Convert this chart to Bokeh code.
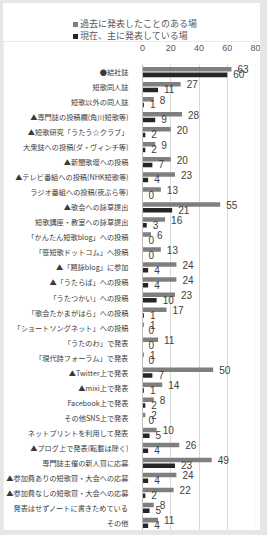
from bokeh.plotting import figure
from bokeh.models import (ColumnDataSource, FactorRange, Range1d, FixedTicker, Column, Div)
from bokeh.transform import dodge
from bokeh.core.properties import value
from bokeh.embed import file_html
from bokeh.resources import INLINE

categories = [
    "●結社誌",
    "短歌同人誌",
    "短歌以外の同人誌",
    "▲専門誌の投稿欄(角川短歌等)",
    "▲短歌研究「うたう☆クラブ」",
    "大衆誌への投稿(ダ・ヴィンチ等)",
    "▲新聞歌壇への投稿",
    "▲テレビ番組への投稿(NHK短歌等)",
    "ラジオ番組への投稿(夜ぷら等)",
    "▲歌会への詠草提出",
    "短歌講座・教室への詠草提出",
    "「かんたん短歌blog」への投稿",
    "「笹短歌ドットコム」へ投稿",
    "▲「題詠blog」に参加",
    "▲「うたらば」への投稿",
    "「うたつかい」への投稿",
    "「歌会たかまがはら」への投稿",
    "「ショートソングネット」への投稿",
    "「うたのわ」で発表",
    "「現代詩フォーラム」で発表",
    "▲Twitter上で発表",
    "▲mixi上で発表",
    "Facebook上で発表",
    "その他SNS上で発表",
    "ネットプリントを利用して発表",
    "▲ブログ上で発表(転載は除く)",
    "専門誌主催の新人賞に応募",
    "▲参加費ありの短歌賞・大会への応募",
    "▲参加費なしの短歌賞・大会への応募",
    "発表はせずノートに書きためている",
    "その他",
]
past = [63, 27, 8, 28, 20, 9, 20, 23, 13, 55, 16, 6, 13, 24, 24, 23, 17, 1, 11, 1,
        50, 14, 8, 2, 10, 26, 49, 24, 22, 8, 11]
current = [60, 11, 1, 9, 2, 2, 7, 4, 0, 21, 3, 0, 0, 4, 4, 10, 1, 0, 0, 0,
           7, 1, 2, 0, 5, 4, 23, 4, 2, 5, 4]
series_names = ["過去に発表したことのある場", "現在、主に発表している場"]
series_colors = ["#7f7f7f", "#262626"]
x_ticks = [0, 20, 40, 60, 80]

src = ColumnDataSource(dict(
    cat=categories, past=past, current=current,
    past_lbl=[str(v) for v in past], cur_lbl=[str(v) for v in current],
))

JP = "Noto Sans CJK JP"

p = figure(width=257, height=489, output_backend="svg", toolbar_location=None,
           y_range=FactorRange(factors=categories[::-1]),
           x_range=Range1d(0, 80), x_axis_location="above",
           min_border_left=136, min_border_right=5, min_border_top=19,
           min_border_bottom=0, margin=0)
p.outline_line_color = None
p.background_fill_color = "white"
p.border_fill_color = "white"

p.hbar(y=dodge("cat", 0.19, range=p.y_range), left=0, right="past", height=0.3,
       source=src, fill_color=series_colors[0], line_color=None)
p.hbar(y=dodge("cat", -0.19, range=p.y_range), left=0, right="current", height=0.3,
       source=src, fill_color=series_colors[1], line_color=None)

p.text(x="past", y=dodge("cat", 0.17, range=p.y_range), text="past_lbl", source=src,
       x_offset=6, text_baseline="middle", text_align="left",
       text_font=value("Liberation Sans"), text_font_size="10px", text_color="#404040")
p.text(x="current", y=dodge("cat", -0.15, range=p.y_range), text="cur_lbl", source=src,
       x_offset=6, text_baseline="middle", text_align="left",
       text_font=value("Liberation Sans"), text_font_size="10px", text_color="#404040")

# axes
xa = p.xaxis[0]
xa.ticker = FixedTicker(ticks=x_ticks)
xa.axis_line_color = None
xa.major_tick_line_color = None
xa.minor_tick_line_color = None
xa.major_label_text_font = "Liberation Sans"
xa.major_label_text_font_size = "9px"
xa.major_label_text_color = "#595959"
xa.major_label_standoff = 8

ya = p.yaxis[0]
ya.axis_line_color = "#bfbfbf"
ya.major_tick_line_color = None
ya.minor_tick_line_color = None
ya.major_label_text_font = JP
ya.major_label_text_font_size = "7.2px"
ya.major_label_text_color = "#3a3a3a"
ya.major_label_standoff = 8

p.xgrid.grid_line_color = "#d9d9d9"
p.xgrid.ticker = FixedTicker(ticks=x_ticks)
p.ygrid.grid_line_color = None

# legend (HTML, above the plot)
rows = ""
for i, (name, col) in enumerate(zip(series_names, series_colors)):
    rows += (f'<div style="position:absolute;left:70px;top:{14.5 + 12 * i}px;'
             f'line-height:12px;white-space:nowrap;">'
             f'<span style="display:inline-block;width:5px;height:5px;background:{col};'
             f'margin-right:2px;vertical-align:middle;"></span>{name}</div>')
legend_div = Div(text=f'<div style="position:relative;width:257px;height:38px;'
                      f'font-family:\'{JP}\';font-size:9px;color:#595959;">{rows}</div>',
                 width=257, height=38, margin=0,
                 styles={"background-color": "white"})

layout = Column(legend_div, p, spacing=0,
                styles={"padding": "3px 7px 5px 3px", "background-color": "#e6e6e6"})

open("out.html", "w").write(file_html(layout, INLINE))
